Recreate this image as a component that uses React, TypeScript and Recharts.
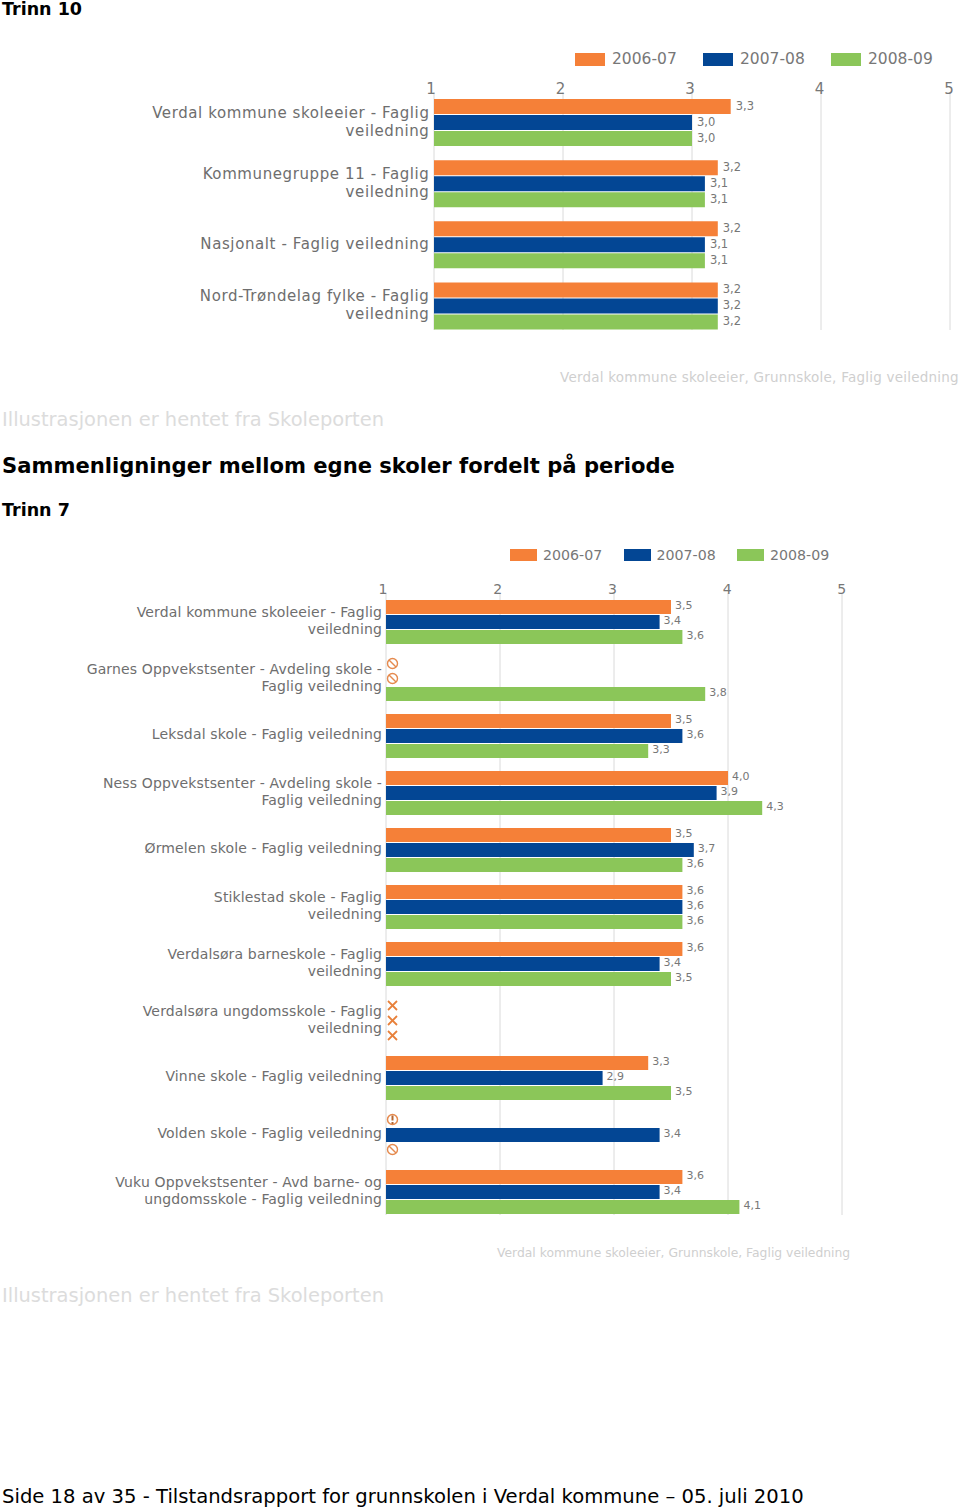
import React from "react";
import { BarChart, Bar, XAxis, YAxis, CartesianGrid, Legend, LabelList, ReferenceDot } from "recharts";

const periods = ["2006-07", "2007-08", "2008-09"];
const colors = ["#F58038", "#034694", "#8BC659"];
const axisTicks = [1, 2, 3, 4, 5];

const categories10 = [
  "Verdal kommune skoleeier - Faglig\nveiledning",
  "Kommunegruppe 11 - Faglig\nveiledning",
  "Nasjonalt - Faglig veiledning",
  "Nord-Trøndelag fylke - Faglig\nveiledning",
];
const a10 = [3.3, 3.2, 3.2, 3.2];
const b10 = [3.0, 3.1, 3.1, 3.2];
const c10 = [3.0, 3.1, 3.1, 3.2];

const categories7 = [
  "Verdal kommune skoleeier - Faglig\nveiledning",
  "Garnes Oppvekstsenter - Avdeling skole -\nFaglig veiledning",
  "Leksdal skole - Faglig veiledning",
  "Ness Oppvekstsenter - Avdeling skole -\nFaglig veiledning",
  "Ørmelen skole - Faglig veiledning",
  "Stiklestad skole - Faglig\nveiledning",
  "Verdalsøra barneskole - Faglig\nveiledning",
  "Verdalsøra ungdomsskole - Faglig\nveiledning",
  "Vinne skole - Faglig veiledning",
  "Volden skole - Faglig veiledning",
  "Vuku Oppvekstsenter - Avd barne- og\nungdomsskole - Faglig veiledning",
];
const a7 = [3.5, null, 3.5, 4.0, 3.5, 3.6, 3.6, null, 3.3, null, 3.6];
const b7 = [3.4, null, 3.6, 3.9, 3.7, 3.6, 3.4, null, 2.9, 3.4, 3.4];
const c7 = [3.6, 3.8, 3.3, 4.3, 3.6, 3.6, 3.5, null, 3.5, null, 4.1];
// Status icon shown where a value is missing: n = no data sign, x = cross, e = warning
const aMarks7 = ["", "n", "", "", "", "", "", "x", "", "e", ""];
const bMarks7 = ["", "n", "", "", "", "", "", "x", "", "", ""];
const cMarks7 = ["", "", "", "", "", "", "", "x", "", "n", ""];

const FONT = "'DejaVu Sans', Verdana, sans-serif";
const ICON = "#E58A4E";

function Mark({ kind, cx, cy }: { kind: string; cx: number; cy: number }) {
  if (kind === "x") {
    return (
      <g stroke="#E8803A" strokeWidth={1.8} fill="none">
        <line x1={cx - 4.5} y1={cy - 4.5} x2={cx + 4.5} y2={cy + 4.5} />
        <line x1={cx + 4.5} y1={cy - 4.5} x2={cx - 4.5} y2={cy + 4.5} />
      </g>
    );
  }
  if (kind === "e") {
    return (
      <g stroke={ICON} fill="none">
        <circle cx={cx} cy={cy} r={5} strokeWidth={1.5} />
        <line x1={cx} y1={cy - 4} x2={cx} y2={cy + 1} strokeWidth={2} stroke="#B5652F" />
        <line x1={cx} y1={cy + 2.5} x2={cx} y2={cy + 4.5} strokeWidth={2} stroke="#B5652F" />
      </g>
    );
  }
  return (
    <g stroke={ICON} fill="none" strokeWidth={1.4}>
      <circle cx={cx} cy={cy} r={5} />
      <line x1={cx - 3.5} y1={cy - 3.5} x2={cx + 3.5} y2={cy + 3.5} />
    </g>
  );
}

function CategoryTick({ y, payload, fontSize, lineHeight, right, spacing, dy }: any) {
  const lines = String(payload.value).split("\n");
  const start = y - ((lines.length - 1) * lineHeight) / 2 + fontSize * 0.35 + dy;
  return (
    <text textAnchor="end" fontFamily={FONT} fontSize={fontSize} fill="#6E6E6E" letterSpacing={spacing}>
      {lines.map((l: string, i: number) => (
        <tspan key={i} x={right} y={start + i * lineHeight}>{l}</tspan>
      ))}
    </text>
  );
}

function ValueTick({ x, payload, labelY, fontSize, dx, stretch }: any) {
  return (
    <text x={x + dx + (payload.value - 1) * stretch} y={labelY} textAnchor="middle" fontFamily={FONT} fontSize={fontSize} fill="#777">
      {payload.value}
    </text>
  );
}

function legendContent(itemW: number, gap: number, sw: number, sh: number, fontSize: number) {
  return ({ payload }: any) => (
    <div style={{ display: "flex", fontFamily: FONT, fontSize, color: "#777", lineHeight: `${sh}px` }}>
      {(payload || []).map((p: any) => (
        <div key={p.value} style={{ display: "flex", alignItems: "center", width: itemW, flex: "none" }}>
          <span style={{ display: "inline-block", width: sw, height: sh, background: p.color, marginRight: gap }} />
          <span>{p.value}</span>
        </div>
      ))}
    </div>
  );
}

function Panel({ top, height, left, right, plotTop, plotBottom, padBottom, barSize, rows, cats, marks, catFont, catLine, catRight, catSpacing, catDy, tickFont, tickDx, tickStretch, tickY, labelFont, labelOffset, labelDy, legend, legendFn }: any) {
  const data = cats.map((name: string, i: number) => ({ name, a: rows[0][i], b: rows[1][i], c: rows[2][i] }));
  const keys = ["a", "b", "c"];
  return (
    <div style={{ position: "absolute", left: 0, top, width: 960, height }}>
      <BarChart
        width={960}
        height={height}
        data={data}
        layout="vertical"
        barSize={barSize}
        barGap={1}
        margin={{ top: plotTop - 20, right: 960 - right, bottom: height - plotBottom, left: 0 }}
      >
        <CartesianGrid horizontal={false} stroke="#DADADA" strokeWidth={1} />
        <XAxis
          type="number"
          orientation="top"
          domain={[1, 5]}
          ticks={axisTicks}
          height={20}
          axisLine={false}
          tickLine={false}
          interval={0}
          tick={<ValueTick labelY={tickY} fontSize={tickFont} dx={tickDx} stretch={tickStretch} />}
        />
        <YAxis
          type="category"
          dataKey="name"
          width={left}
          padding={{ top: 0, bottom: padBottom }}
          axisLine={false}
          tickLine={false}
          interval={0}
          tick={<CategoryTick fontSize={catFont} lineHeight={catLine} right={catRight} spacing={catSpacing} dy={catDy} />}
        />
        <Legend verticalAlign="middle" layout="horizontal" wrapperStyle={legend} content={legendFn} />
        {keys.map((k, si) => (
          <Bar key={k} name={periods[si]} dataKey={k} fill={colors[si]} isAnimationActive={false}>
            <LabelList
              content={(p: any) => {
                const v = Array.isArray(p.value) ? p.value[1] : p.value;
                if (v == null) return null;
                const vb = p.viewBox;
                return (
                  <text x={vb.x + vb.width + labelOffset} y={vb.y + vb.height / 2 + labelDy} fontFamily={FONT} fontSize={labelFont} fill="#777">
                    {Number(v).toFixed(1).replace(".", ",")}
                  </text>
                );
              }}
            />
          </Bar>
        ))}
        {marks &&
          marks.map((list: string[], si: number) =>
            list.map((kind: string, i: number) =>
              kind ? (
                <ReferenceDot
                  key={`${si}-${i}`}
                  x={axisTicks[0]}
                  y={cats[i]}
                  r={0}
                  ifOverflow="visible"
                  shape={(s: any) => <Mark kind={kind} cx={s.cx + 6.5} cy={s.cy + (si - 1) * (barSize + 1)} />}
                />
              ) : null
            )
          )}
      </BarChart>
    </div>
  );
}

const textStyle = (top: number, size: number, bold: boolean, color: string): React.CSSProperties => ({
  position: "absolute",
  left: 2,
  top,
  fontFamily: FONT,
  fontSize: size,
  fontWeight: bold ? 700 : 400,
  color,
  whiteSpace: "nowrap",
  lineHeight: "20px",
});

const note = (left: number, top: number, size: number, spacing: number): React.CSSProperties => ({
  position: "absolute",
  left,
  top,
  fontFamily: FONT,
  fontSize: size,
  letterSpacing: spacing,
  color: "#CFCFCF",
  whiteSpace: "nowrap",
  lineHeight: "16px",
});

export default function App() {
  return (
    <div style={{ position: "absolute", left: 0, top: 0, width: 960, height: 1511, background: "#fff", overflow: "hidden" }}>
      <div style={textStyle(-1, 17.5, true, "#000")}>Trinn 10</div>
      <Panel
        top={0}
        height={345}
        left={434}
        right={950}
        plotTop={92}
        plotBottom={330}
        padBottom={-6.5}
        barSize={15}
        rows={[a10, b10, c10]}
        cats={categories10}
        catFont={15}
        catLine={17.5}
        catRight={429.5}
        catSpacing={0.6}
        catDy={-1}
        tickFont={15}
        tickDx={-3}
        tickStretch={0.5}
        tickY={94}
        labelFont={11.5}
        labelOffset={5}
        labelDy={3}
        legend={{ position: "absolute", left: 575, top: 53, width: 400 }}
        legendFn={legendContent(128, 7, 30, 13, 15.5)}
      />
      <div style={note(560, 369, 13.5, 0.23)}>Verdal kommune skoleeier, Grunnskole, Faglig veiledning</div>
      <div style={textStyle(410, 19.45, false, "#DCDCDC")}>Illustrasjonen er hentet fra Skoleporten</div>
      <div style={textStyle(456, 21.1, true, "#000")}>Sammenligninger mellom egne skoler fordelt på periode</div>
      <div style={textStyle(500, 17.5, true, "#000")}>Trinn 7</div>
      <Panel
        top={500}
        height={730}
        left={386}
        right={842}
        plotTop={93}
        plotBottom={715}
        padBottom={-5}
        barSize={14}
        rows={[a7, b7, c7]}
        cats={categories7}
        marks={[aMarks7, bMarks7, cMarks7]}
        catFont={14}
        catLine={16.5}
        catRight={382}
        catSpacing={0.15}
        catDy={-1}
        tickFont={14}
        tickDx={-3}
        tickStretch={0.7}
        tickY={94}
        labelFont={11}
        labelOffset={4}
        labelDy={2}
        legend={{ position: "absolute", left: 510, top: 49, width: 360 }}
        legendFn={legendContent(113.5, 6, 27, 12, 14.2)}
      />
      <div style={note(497, 1245, 12.35, 0)}>Verdal kommune skoleeier, Grunnskole, Faglig veiledning</div>
      <div style={textStyle(1286, 19.45, false, "#DCDCDC")}>Illustrasjonen er hentet fra Skoleporten</div>
      <div style={textStyle(1487, 19.6, false, "#000")}>Side 18 av 35 - Tilstandsrapport for grunnskolen i Verdal kommune – 05. juli 2010</div>
    </div>
  );
}
